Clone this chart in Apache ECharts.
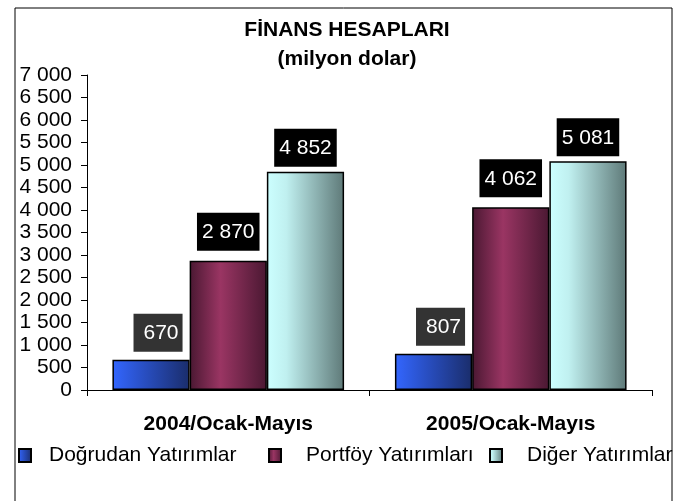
<!DOCTYPE html>
<html>
<head>
<meta charset="utf-8">
<script src="https://cdn.jsdelivr.net/npm/echarts@6/dist/echarts.min.js"></script>
<style>
  html, body { margin: 0; padding: 0; background: #fff; }
  #chart { width: 694px; height: 501px; }
</style>
</head>
<body>
<div id="chart"></div>
<script>
// chart data
const periods = ["2004/Ocak-Mayıs", "2005/Ocak-Mayıs"];
const seriesNames = ["Doğrudan Yatırımlar", "Portföy Yatırımları", "Diğer Yatırımlar"];
const dogrudan = [670, 807];
const portfoy = [2870, 4062];
const diger = [4852, 5081];

const FONT = "'Liberation Sans', Arial, sans-serif";

// 7000 -> "7 000"
function spaced(v) {
  return String(v).replace(/\B(?=(\d{3})+(?!\d))/g, " ");
}

function hGrad(stops) {
  return new echarts.graphic.LinearGradient(0, 0, 1, 0, stops);
}

const colors = [
  hGrad([{ offset: 0, color: "#3366ff" }, { offset: 1, color: "#1a2d6b" }]),
  hGrad([{ offset: 0, color: "#4a1832" }, { offset: 0.4, color: "#9a3563" }, { offset: 1, color: "#4a1832" }]),
  hGrad([{ offset: 0, color: "#ccffff" }, { offset: 0.25, color: "#c0f0f0" }, { offset: 1, color: "#5e7978" }])
];
const labelBg = ["#333333", "#000000", "#000000"];
const labelDist = [8, 10, 5];
const labelOffset = [[7, 0], [0, 0], [0, 0]];
const labelPad = [[9, 4, 8, 10], [9, 5, 8, 5], [9, 5, 8, 5]];

const values = [dogrudan, portfoy, diger];
// legend icon x and gap to text
const legendLeft = [18, 268, 489];
const legendTextGap = [13, 20, 20];

const chart = echarts.init(document.getElementById("chart"));
chart.setOption({
  animation: false,
  textStyle: { fontFamily: FONT },
  title: {
    text: "FİNANS HESAPLARI\n(milyon dolar)",
    left: "center",
    top: 11,
    textStyle: { fontFamily: FONT, fontSize: 21, fontWeight: "bold", color: "#000", lineHeight: 29 }
  },
  legend: seriesNames.map((n, i) => ({
    data: [n],
    left: legendLeft[i],
    top: 445,
    padding: 0,
    icon: "rect",
    itemWidth: 12,
    itemHeight: 13,
    textStyle: { fontFamily: FONT, fontSize: 21, color: "#000", padding: [0, 0, 0, legendTextGap[i]] }
  })),
  grid: { left: 87, right: 42, top: 75, bottom: 111 },
  xAxis: {
    type: "category",
    data: periods,
    axisLine: { lineStyle: { color: "#000", width: 1 } },
    axisTick: { show: true, length: 6, lineStyle: { color: "#000" } },
    axisLabel: { fontFamily: FONT, fontSize: 21, fontWeight: "bold", color: "#000", margin: 24 }
  },
  yAxis: {
    type: "value",
    min: 0,
    max: 7000,
    interval: 500,
    splitLine: { show: false },
    axisLine: { show: true, lineStyle: { color: "#000", width: 1 } },
    axisTick: { show: true, length: 6, lineStyle: { color: "#000" } },
    axisLabel: { fontFamily: FONT, fontSize: 21, color: "#000", margin: 15, formatter: spaced }
  },
  graphic: [{
    type: "rect",
    shape: { x: 15, y: 8, width: 657, height: 520 },
    style: { fill: "none", stroke: "#000", lineWidth: 1 },
    silent: true
  }],
  series: seriesNames.map((n, i) => ({
    name: n,
    type: "bar",
    data: values[i],
    barGap: "0%",
    barCategoryGap: "18%",
    itemStyle: { color: colors[i], borderColor: "#000", borderWidth: 1.5 },
    label: {
      show: true,
      position: "top",
      distance: labelDist[i],
      offset: labelOffset[i],
      color: "#fff",
      fontFamily: FONT,
      fontSize: 21,
      backgroundColor: labelBg[i],
      padding: labelPad[i],
      formatter: p => spaced(p.value)
    }
  }))
});
</script>
</body>
</html>
